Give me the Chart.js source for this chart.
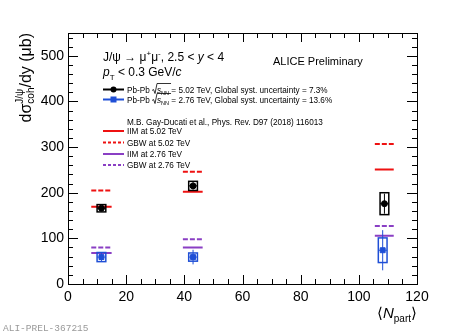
<!DOCTYPE html>
<html>
<head>
<meta charset="utf-8">
<script src="https://cdn.jsdelivr.net/npm/chart.js@4"></script>
<style>
  html, body { margin: 0; padding: 0; background: #fff; }
  #wrap { width: 463px; height: 335px; }
</style>
</head>
<body>
<div id="wrap"><canvas id="grafico" width="463" height="335"></canvas></div>
<script>
// datos
const npart502 = [11.5, 43.0, 108.8];
const sigma502 = [166, 215, 176];
const stat502 = [3, 8, 22];
const syst502 = [8, 10, 24];

const npart276 = [11.5, 43.0, 108.2];
const sigma276 = [59, 59, 74];
const stat276 = [9, 16, 44];
const syst276 = [10, 9, 27];

// modelos: tramos horizontales
const modeloDesde = [8.0, 39.5, 105.5];
const modeloHasta = [15.0, 46.3, 112.0];
const iim502 = [169, 202, 251];
const gbw502 = [205, 246, 307];
const iim276 = [68, 80, 106];
const gbw276 = [80, 98, 127];

const ticksX = [0, 20, 40, 60, 80, 100, 120];
const ticksY = [0, 100, 200, 300, 400, 500];

const ROJO = '#ee1111';
const VIOLETA = '#8a3fc4';
const AZUL = '#1f4fd6';
const FUENTE = '"Liberation Sans", Arial, sans-serif';
const LEY = 8.2;

function tramos(valores) {
    const puntos = [];
    valores.forEach((v, i) => {
        puntos.push({ x: modeloDesde[i], y: v });
        puntos.push({ x: modeloHasta[i], y: v });
        puntos.push({ x: modeloHasta[i], y: null });
    });
    return puntos;
}

function puntos(xs, ys) {
    return xs.map((x, i) => ({ x: x, y: ys[i] }));
}

// texto con sub/superindices: partes = [{t, size, dy, italic, stack}]
function textoRico(ctx, x, y, partes, medir) {
    let cx = x;
    let ultimoAncho = 0;
    partes.forEach(p => {
        ctx.font = (p.italic ? 'italic ' : '') + p.size + 'px ' + FUENTE;
        const w = ctx.measureText(p.t).width;
        let px = cx;
        if (p.stack) {
            px = cx - ultimoAncho;
        }
        if (!medir) ctx.fillText(p.t, px, y + (p.dy || 0));
        if (p.stack) {
            cx = px + Math.max(w, ultimoAncho);
        } else {
            cx = px + w;
        }
        ultimoAncho = w;
    });
    return cx - x;
}

const barrasError = {
    id: 'barrasError',
    afterDatasetsDraw(chart) {
        const ctx = chart.ctx;
        const sx = chart.scales.x;
        const sy = chart.scales.y;
        const dibujar = (xs, ys, st, sys, color) => {
            ctx.save();
            ctx.strokeStyle = color;
            xs.forEach((x, i) => {
                const px = sx.getPixelForValue(x);
                const hw = sx.getPixelForValue(x + 1.5) - px;
                const top = sy.getPixelForValue(ys[i] + sys[i]);
                const bot = sy.getPixelForValue(ys[i] - sys[i]);
                ctx.lineWidth = 1.5;
                ctx.strokeRect(px - hw, top, 2 * hw, bot - top);
                ctx.lineWidth = 1;
                ctx.beginPath();
                ctx.moveTo(px, sy.getPixelForValue(ys[i] + st[i]));
                ctx.lineTo(px, sy.getPixelForValue(ys[i] - st[i]));
                ctx.moveTo(px - hw, sy.getPixelForValue(ys[i]));
                ctx.lineTo(px + hw, sy.getPixelForValue(ys[i]));
                ctx.stroke();
            });
            ctx.restore();
        };
        dibujar(npart502, sigma502, stat502, syst502, '#000');
        dibujar(npart276, sigma276, stat276, syst276, AZUL);
    }
};

const marco = {
    id: 'marco',
    afterDraw(chart) {
        const ctx = chart.ctx;
        const a = chart.chartArea;
        const sx = chart.scales.x;
        const sy = chart.scales.y;
        ctx.save();
        ctx.strokeStyle = '#000';
        ctx.lineWidth = 1;
        ctx.strokeRect(a.left + 0.5, a.top + 0.5, a.right - a.left, a.bottom - a.top);
        ctx.beginPath();
        for (let v = 0; v <= 550; v += 20) {
            const py = Math.round(sy.getPixelForValue(v)) + 0.5;
            const len = v % 100 === 0 ? 10 : 5;
            ctx.moveTo(a.left, py); ctx.lineTo(a.left + len, py);
            ctx.moveTo(a.right, py); ctx.lineTo(a.right - len, py);
        }
        for (let v = 0; v <= 120; v += 5) {
            const px = Math.round(sx.getPixelForValue(v)) + 0.5;
            const len = v % 20 === 0 ? 9 : 5;
            ctx.moveTo(px, a.bottom); ctx.lineTo(px, a.bottom - len);
            ctx.moveTo(px, a.top); ctx.lineTo(px, a.top + len);
        }
        ctx.stroke();

        // titulo eje Y
        ctx.fillStyle = '#000';
        ctx.save();
        ctx.translate(31, a.top);
        ctx.rotate(-Math.PI / 2);
        ctx.textBaseline = 'alphabetic';
        const partesY = [
            { t: 'dσ', size: 16 },
            { t: 'J/ψ', size: 10, dy: -8 },
            { t: 'coh', size: 10, dy: 3, stack: true },
            { t: '/dy (μb)', size: 16 }
        ];
        const anchoY = textoRico(ctx, 0, 0, partesY, true);
        textoRico(ctx, -anchoY, 0, partesY, false);
        ctx.restore();

        // titulo eje X
        const partesX = [
            { t: '⟨', size: 15 },
            { t: 'N', size: 15, italic: true },
            { t: 'part', size: 10, dy: 4 },
            { t: '⟩', size: 15 }
        ];
        const anchoX = textoRico(ctx, 0, 0, partesX, true);
        textoRico(ctx, a.right - anchoX, 318, partesX, false);

        // textos de la leyenda
        textoRico(ctx, 103, 61, [
            { t: 'J/ψ → μ', size: 12 },
            { t: '+', size: 8, dy: -5 },
            { t: 'μ', size: 12 },
            { t: '-', size: 8, dy: -5 },
            { t: ', 2.5 < ', size: 12 },
            { t: 'y', size: 12, italic: true },
            { t: ' < 4', size: 12 }
        ]);
        textoRico(ctx, 103, 76, [
            { t: 'p', size: 12, italic: true },
            { t: 'T', size: 8, dy: 4 },
            { t: ' < 0.3 GeV/', size: 12 },
            { t: 'c', size: 12, italic: true }
        ]);
        textoRico(ctx, 273, 65, [{ t: 'ALICE Preliminary', size: 11 }]);

        const linea = (y, color, dash, ancho) => {
            ctx.save();
            ctx.strokeStyle = color;
            ctx.lineWidth = ancho;
            ctx.setLineDash(dash);
            ctx.beginPath();
            ctx.moveTo(103, y);
            ctx.lineTo(124, y);
            ctx.stroke();
            ctx.restore();
        };
        const exp = (y, color, energia, incert) => {
            linea(y, color, [], 2);
            ctx.fillStyle = color;
            ctx.beginPath();
            if (color === '#000') {
                ctx.arc(113.5, y, 3, 0, 2 * Math.PI);
            } else {
                ctx.rect(110.5, y - 3, 6, 6);
            }
            ctx.fill();
            ctx.fillStyle = '#000';
            ctx.font = LEY + 'px ' + FUENTE;
            let cx = 127;
            ctx.fillText('Pb-Pb ', cx, y + 3);
            cx += ctx.measureText('Pb-Pb ').width;
            // raiz
            ctx.save();
            ctx.strokeStyle = '#000';
            ctx.lineWidth = 0.8;
            ctx.beginPath();
            ctx.moveTo(cx, y + 1);
            ctx.lineTo(cx + 1.5, y);
            ctx.lineTo(cx + 3, y + 4);
            ctx.lineTo(cx + 5, y - 6);
            ctx.lineTo(cx + 19, y - 6);
            ctx.stroke();
            ctx.restore();
            cx += textoRico(ctx, cx + 5, y + 3, [
                { t: 's', size: LEY, italic: true },
                { t: 'NN', size: 5.5, dy: 2 }
            ]) + 5;
            ctx.font = LEY + 'px ' + FUENTE;
            ctx.fillText(' = ' + energia + ' TeV, Global syst. uncertainty = ' + incert, cx, y + 3);
        };
        exp(89.5, '#000', '5.02', '7.3%');
        exp(99.5, AZUL, '2.76', '13.6%');

        ctx.fillStyle = '#000';
        ctx.font = LEY + 'px ' + FUENTE;
        ctx.fillText('M.B. Gay-Ducati et al., Phys. Rev. D97 (2018) 116013', 127, 125);
        const modelos = [
            [131, ROJO, [], 'IIM at 5.02 TeV'],
            [142.5, ROJO, [3, 2], 'GBW at 5.02 TeV'],
            [154, VIOLETA, [], 'IIM at 2.76 TeV'],
            [165, VIOLETA, [3, 2], 'GBW at 2.76 TeV']
        ];
        modelos.forEach(m => {
            linea(m[0], m[1], m[2], 2);
            ctx.fillStyle = '#000';
            ctx.font = LEY + 'px ' + FUENTE;
            ctx.fillText(m[3], 127, m[0] + 3);
        });

        ctx.fillStyle = '#999';
        ctx.font = '9.5px "Liberation Mono", monospace';
        ctx.fillText('ALI-PREL-367215', 3, 331);
        ctx.restore();
    }
};

const lineaModelo = (etiqueta, valores, color, dash) => ({
    label: etiqueta,
    data: tramos(valores),
    showLine: true,
    spanGaps: false,
    borderColor: color,
    borderWidth: 2,
    borderDash: dash,
    pointRadius: 0,
    order: 5
});

new Chart(document.getElementById('grafico'), {
    type: 'scatter',
    data: {
        datasets: [
            {
                label: '5.02 TeV',
                data: puntos(npart502, sigma502),
                backgroundColor: '#000',
                borderColor: '#000',
                pointStyle: 'circle',
                pointRadius: 3,
                order: 1
            },
            {
                label: '2.76 TeV',
                data: puntos(npart276, sigma276),
                backgroundColor: AZUL,
                borderColor: AZUL,
                pointStyle: 'rect',
                pointRadius: 3.5,
                order: 1
            },
            lineaModelo('IIM at 5.02 TeV', iim502, ROJO, []),
            lineaModelo('GBW at 5.02 TeV', gbw502, ROJO, [5, 2]),
            lineaModelo('IIM at 2.76 TeV', iim276, VIOLETA, []),
            lineaModelo('GBW at 2.76 TeV', gbw276, VIOLETA, [5, 2])
        ]
    },
    options: {
        responsive: false,
        animation: false,
        devicePixelRatio: 1,
        layout: { padding: { top: 33, right: 46, left: 0, bottom: 0 } },
        plugins: {
            legend: { display: false },
            tooltip: { enabled: false }
        },
        scales: {
            x: {
                type: 'linear',
                min: 0,
                max: 120,
                afterFit: s => { s.height = 51; },
                afterBuildTicks: s => { s.ticks = ticksX.map(v => ({ value: v })); },
                grid: { display: false, drawTicks: false },
                border: { display: true, color: '#000', width: 1 },
                ticks: {
                    color: '#000',
                    padding: 5,
                    maxRotation: 0,
                    font: { family: FUENTE, size: 14 }
                }
            },
            y: {
                type: 'linear',
                min: 0,
                max: 550,
                afterFit: s => { s.width = 68; },
                afterBuildTicks: s => { s.ticks = ticksY.map(v => ({ value: v })); },
                grid: { display: false, drawTicks: false },
                border: { display: true, color: '#000', width: 1 },
                ticks: {
                    color: '#000',
                    padding: 4,
                    font: { family: FUENTE, size: 14 }
                }
            }
        }
    },
    plugins: [barrasError, marco]
});
</script>
</body>
</html>
